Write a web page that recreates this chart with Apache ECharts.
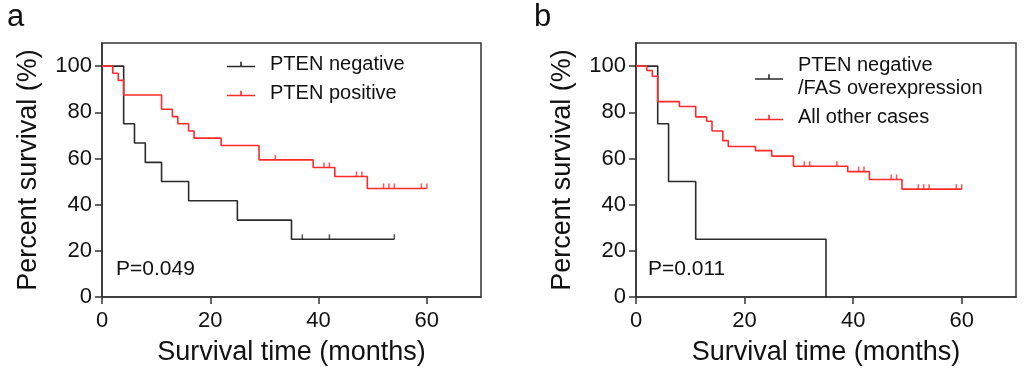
<!DOCTYPE html>
<html>
<head>
<meta charset="utf-8">
<script src="https://cdn.jsdelivr.net/npm/echarts@6/dist/echarts.min.js"></script>
<style>html,body{margin:0;padding:0;background:#fff}#c{width:1024px;height:376px}</style>
</head>
<body>
<div id="c"></div>
<script>
// ---- data ----
const xTicks = [0, 20, 40, 60];
const yTicks = [0, 20, 40, 60, 80, 100];

// Panel a
const aNegName = 'PTEN negative';
const aNegTime = [0, 4, 6, 8, 11, 16, 25, 35, 54];
const aNegSurv = [100, 75, 66.7, 58.3, 50, 41.7, 33.3, 25, 25];
const aNegCensor = [37, 42, 54];

const aPosName = 'PTEN positive';
const aPosTime = [0, 2, 3, 4, 11, 13, 14, 16, 17, 22, 29, 39, 43, 49, 60];
const aPosSurv = [100, 96.9, 93.8, 87.5, 81.3, 78.1, 75.0, 71.9, 68.8, 65.6, 59.4, 56.1, 52.2, 47.0, 47.0];
const aPosCensor = [32, 41, 42, 47, 48, 52, 53, 54, 59, 60];

// Panel b
const bNegName = 'PTEN negative\n/FAS overexpression';
const bNegTime = [0, 4, 6, 11, 35];
const bNegSurv = [100, 75, 50, 25, 0];
const bNegCensor = [];

const bOthName = 'All other cases';
const bOthTime = [0, 2, 3, 4, 8, 11, 13, 14, 16, 17, 22, 25, 29, 39, 43, 49, 60];
const bOthSurv = [100, 98.1, 95.6, 84.6, 82.5, 78.0, 76.1, 71.9, 67.7, 65.2, 63.4, 61.0, 56.6, 54.3, 50.9, 46.7, 46.7];
const bOthCensor = [31, 32, 37, 41, 42, 47, 48, 52, 53, 54, 59, 60];

const pA = 'P=0.049';
const pB = 'P=0.011';

// ---- helpers ----
const BLACK = '#2b2b2b';
const RED = '#ff2b2b';
const AX = '#333333';
const FONT = 'Liberation Sans';

function zip(t, s) { return t.map((v, i) => [v, s[i]]); }
function survAt(t, s, x) { let v = s[0]; for (let i = 0; i < t.length; i++) { if (t[i] <= x) v = s[i]; } return v; }
function censorPts(t, s, c) { return c.map(x => [x, survAt(t, s, x)]); }

function lineSeries(name, t, s, color, gi) {
  return { name: name, type: 'line', step: 'end', xAxisIndex: gi, yAxisIndex: gi,
    data: zip(t, s), symbol: 'none', showSymbol: false, color: color,
    lineStyle: { color: color, width: 1.6 }, animation: false, z: 3 };
}
function censorSeries(name, t, s, c, color, gi) {
  return { name: name + ' censored', type: 'scatter', xAxisIndex: gi, yAxisIndex: gi,
    data: censorPts(t, s, c), symbol: 'rect', symbolSize: [1.5, 5], symbolOffset: [0, -2.5],
    itemStyle: { color: color }, animation: false, z: 4, silent: true };
}
function xAxis(gi) {
  return { type: 'value', gridIndex: gi, min: 0, max: 70,
    name: 'Survival time (months)', nameLocation: 'middle', nameGap: 42,
    nameTextStyle: { fontFamily: FONT, fontSize: 27, color: '#111' },
    axisLine: { show: true, lineStyle: { color: AX, width: 1.5 } },
    axisTick: { show: true, length: 7, customValues: xTicks, lineStyle: { color: AX, width: 1.5 } },
    axisLabel: { customValues: xTicks, margin: 13, fontFamily: FONT, fontSize: 22, color: '#111' },
    splitLine: { show: false } };
}
function yAxis(gi) {
  return { type: 'value', gridIndex: gi, min: 0, max: 110,
    name: 'Percent survival (%)', nameLocation: 'middle', nameGap: 60, nameRotate: 90,
    nameTextStyle: { fontFamily: FONT, fontSize: 27, color: '#111' },
    axisLine: { show: true, lineStyle: { color: AX, width: 1.5 } },
    axisTick: { show: true, length: 7, customValues: yTicks, lineStyle: { color: AX, width: 1.5 } },
    axisLabel: { customValues: yTicks, margin: 10, fontFamily: FONT, fontSize: 22, color: '#111' },
    splitLine: { show: false } };
}
const ICON = 'path://M0,4h28v1.6h-28z M13.2,0h1.6v4h-1.6z';
function legend(names, left, top) {
  return { orient: 'vertical', left: left, top: top, padding: 0, itemGap: 6,
    data: names, icon: ICON, itemWidth: 28, itemHeight: 6, selectedMode: false,
    textStyle: { fontFamily: FONT, fontSize: 20, color: '#111', lineHeight: 23, padding: [0, 0, 0, 10] } };
}

const option = {
  backgroundColor: '#fff',
  animation: false,
  title: [
    { text: 'a', left: 7, top: 2, padding: 0, textStyle: { fontFamily: FONT, fontSize: 31, fontWeight: 'normal', color: '#111' } },
    { text: 'b', left: 534, top: 2, padding: 0, textStyle: { fontFamily: FONT, fontSize: 31, fontWeight: 'normal', color: '#111' } },
    { text: pA, left: 116, top: 259, padding: 0, textStyle: { fontFamily: FONT, fontSize: 21, fontWeight: 'normal', color: '#111' } },
    { text: pB, left: 648, top: 259, padding: 0, textStyle: { fontFamily: FONT, fontSize: 21, fontWeight: 'normal', color: '#111' } }
  ],
  legend: [
    legend([aNegName, aPosName], 227, 53),
    legend([bNegName, bOthName], 755, 54)
  ],
  grid: [
    { left: 102, right: 543, top: 43, bottom: 79, show: true, borderColor: AX, borderWidth: 1.5, backgroundColor: 'transparent' },
    { left: 636, right: 8, top: 43, bottom: 79, show: true, borderColor: AX, borderWidth: 1.5, backgroundColor: 'transparent' }
  ],
  xAxis: [xAxis(0), xAxis(1)],
  yAxis: [yAxis(0), yAxis(1)],
  series: [
    lineSeries(aNegName, aNegTime, aNegSurv, BLACK, 0),
    lineSeries(aPosName, aPosTime, aPosSurv, RED, 0),
    censorSeries(aNegName, aNegTime, aNegSurv, aNegCensor, BLACK, 0),
    censorSeries(aPosName, aPosTime, aPosSurv, aPosCensor, RED, 0),
    lineSeries(bNegName, bNegTime, bNegSurv, BLACK, 1),
    lineSeries(bOthName, bOthTime, bOthSurv, RED, 1),
    censorSeries(bNegName, bNegTime, bNegSurv, bNegCensor, BLACK, 1),
    censorSeries(bOthName, bOthTime, bOthSurv, bOthCensor, RED, 1)
  ]
};
const chart = echarts.init(document.getElementById('c'), null, { renderer: 'canvas' });
chart.setOption(option);
</script>
</body>
</html>
